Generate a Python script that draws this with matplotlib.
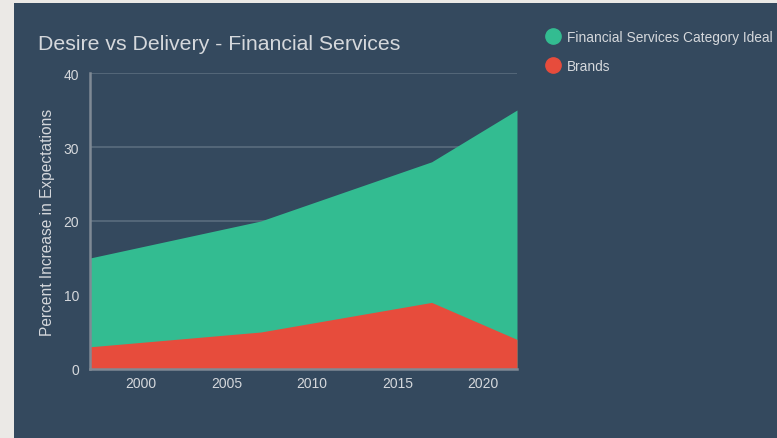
import matplotlib.pyplot as plt
import matplotlib.patches as mpatches
from matplotlib.lines import Line2D

plt.rcParams['font.family'] = ['Liberation Sans', 'DejaVu Sans']

years = [1997, 2007, 2017, 2022]
category_ideal = [15, 20, 28, 35]
brands = [3, 5, 9, 4]

bg_outer = '#ebe9e6'
bg_panel = '#34495e'
green = '#33bc91'
red = '#e74c3c'
text_col = '#d5d8dc'
grid_col = '#5a6c7e'
spine_col = '#7f8a95'

fig = plt.figure(figsize=(7.77, 4.39), dpi=100)
fig.patch.set_facecolor(bg_outer)
panel = mpatches.Rectangle((14 / 777, 0), 1, (439 - 4) / 439,
                           transform=fig.transFigure,
                           facecolor=bg_panel, edgecolor='none', zorder=-10)
fig.add_artist(panel)

ax = fig.add_axes([90 / 777, (439 - 370) / 439, (517 - 90) / 777, (370 - 74) / 439])
ax.set_facecolor(bg_panel)

ax.fill_between(years, category_ideal, color=green, lw=0, zorder=2)
ax.fill_between(years, brands, color=red, lw=0, zorder=3)

ax.set_xlim(1997, 2022)
ax.set_ylim(0, 40)
ax.set_xticks([2000, 2005, 2010, 2015, 2020])
ax.set_yticks([0, 10, 20, 30, 40])
ax.grid(axis='y', color=grid_col, lw=1.2, zorder=1)
ax.tick_params(length=0, colors=text_col, labelsize=10)
ax.tick_params(axis='y', pad=8)
ax.tick_params(axis='x', pad=5)

for side in ['top', 'right']:
    ax.spines[side].set_visible(False)
for side in ['left', 'bottom']:
    ax.spines[side].set_color(spine_col)
    ax.spines[side].set_linewidth(1.8)
    ax.spines[side].set_zorder(4)

ax.set_ylabel('Percent Increase in Expectations', color=text_col, fontsize=11.2, labelpad=6)

fig.text(38 / 777, 1 - 44 / 439, 'Desire vs Delivery - Financial Services',
         color=text_col, fontsize=15.35, va='center', ha='left')

handles = [Line2D([], [], marker='o', ls='none', color=green, markersize=11),
           Line2D([], [], marker='o', ls='none', color=red, markersize=11)]
leg = fig.legend(handles, ['Financial Services Category Ideal', 'Brands'],
                 loc='upper left', bbox_to_anchor=(547 / 777, 1 - 31 / 439),
                 frameon=False, fontsize=9.9, labelcolor=text_col,
                 handletextpad=0.55, handlelength=0.9, labelspacing=1.1,
                 borderaxespad=0, borderpad=0)

fig.savefig('out.png', dpi=100, facecolor=fig.get_facecolor())
